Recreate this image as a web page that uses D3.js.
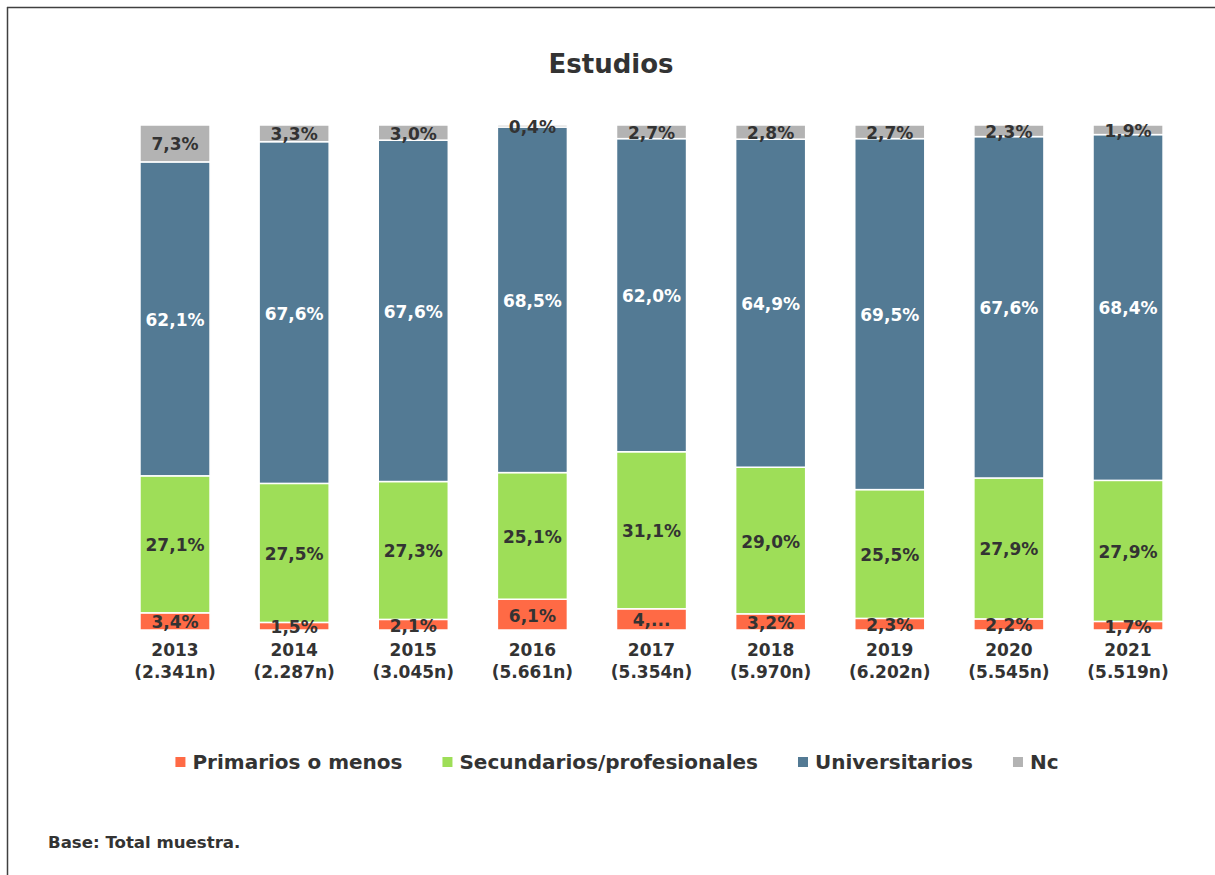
<!DOCTYPE html>
<html>
<head>
<meta charset="utf-8">
<script src="https://cdn.jsdelivr.net/npm/d3@7/dist/d3.min.js"></script>
<style>
  html, body { margin: 0; padding: 0; background: #fff; }
  svg { display: block; }
  text { font-family: "DejaVu Sans", Verdana, sans-serif; font-weight: bold; }
</style>
</head>
<body>
<svg id="chart" width="1215" height="875"></svg>
<script>
// ---- Data ----
const years = ["2013", "2014", "2015", "2016", "2017", "2018", "2019", "2020", "2021"];
const sampleSizes = ["(2.341n)", "(2.287n)", "(3.045n)", "(5.661n)", "(5.354n)", "(5.970n)", "(6.202n)", "(5.545n)", "(5.519n)"];
const seriesNames = ["Primarios o menos", "Secundarios/profesionales", "Universitarios", "Nc"];
const primarios = [3.4, 1.5, 2.1, 6.1, 4.2, 3.2, 2.3, 2.2, 1.7];
const secundarios = [27.1, 27.5, 27.3, 25.1, 31.1, 29.0, 25.5, 27.9, 27.9];
const universitarios = [62.1, 67.6, 67.6, 68.5, 62.0, 64.9, 69.5, 67.6, 68.4];
const nc = [7.3, 3.3, 3.0, 0.4, 2.7, 2.8, 2.7, 2.3, 1.9];
const truncatedLabels = { "2017|Primarios o menos": "4,..." };
const colors = ["#FF6A45", "#9EDE58", "#537A94", "#B3B3B3"];
const labelColors = ["#333333", "#333333", "#FFFFFF", "#333333"];

const seriesValues = [primarios, secundarios, universitarios, nc];
const rows = years.map((y, i) => {
  const r = { year: y };
  seriesNames.forEach((s, k) => r[s] = seriesValues[k][i]);
  return r;
});

const svg = d3.select("#chart");
const textColor = "#333333";

// frame
svg.append("line").attr("x1", 7).attr("y1", 7.5).attr("x2", 1215).attr("y2", 7.5)
  .attr("stroke", "#404040").attr("stroke-width", 1.5);
svg.append("line").attr("x1", 7.5).attr("y1", 7).attr("x2", 7.5).attr("y2", 875)
  .attr("stroke", "#404040").attr("stroke-width", 1.5);

// title
svg.append("text").attr("x", 611).attr("y", 73).attr("text-anchor", "middle")
  .attr("font-size", 26).attr("fill", textColor).text("Estudios");

// scales
const x = d3.scaleBand().domain(years).range([115.45, 1187.6]).paddingInner(0.412).paddingOuter(0.206);
const y = d3.scaleLinear().domain([0, 1]).range([630, 125]);

const stack = d3.stack().keys(seriesNames).offset(d3.stackOffsetExpand);
const stacked = stack(rows);

const fmt = v => d3.format(".1f")(v).replace(".", ",") + "%";

const groups = svg.append("g").selectAll("g").data(stacked).join("g")
  .attr("fill", (d, i) => colors[i]);

groups.selectAll("rect").data(d => d).join("rect")
  .attr("x", d => x(d.data.year))
  .attr("width", x.bandwidth())
  .attr("y", d => y(d[1]))
  .attr("height", d => y(d[0]) - y(d[1]))
  .attr("stroke", "#ffffff").attr("stroke-width", 1.5);

// data labels
const labelsG = svg.append("g");
stacked.forEach((layer, k) => {
  labelsG.selectAll(null).data(layer).join("text")
    .attr("x", d => x(d.data.year) + x.bandwidth() / 2)
    .attr("y", d => (y(d[0]) + y(d[1])) / 2 + 1)
    .attr("text-anchor", "middle")
    .attr("dominant-baseline", "central")
    .attr("font-size", 17)
    .attr("fill", labelColors[k])
    .text(d => truncatedLabels[d.data.year + "|" + layer.key] || fmt(d.data[layer.key]));
});

// x axis labels
const xAxis = svg.append("g");
xAxis.selectAll(null).data(years).join("text")
  .attr("x", d => x(d) + x.bandwidth() / 2).attr("y", 656)
  .attr("text-anchor", "middle").attr("font-size", 17).attr("fill", textColor)
  .text(d => d);
xAxis.selectAll(null).data(years).join("text")
  .attr("x", d => x(d) + x.bandwidth() / 2).attr("y", 678)
  .attr("text-anchor", "middle").attr("font-size", 17).attr("fill", textColor)
  .text((d, i) => sampleSizes[i]);

// legend
const legend = svg.append("g");
const items = legend.selectAll("g").data(seriesNames).join("g");
items.append("rect").attr("width", 10).attr("height", 10).attr("y", 757)
  .attr("fill", (d, i) => colors[i]);
items.append("text").attr("x", 17).attr("y", 769).attr("font-size", 20)
  .attr("fill", textColor).text(d => d);
const widths = [];
items.each(function () { widths.push(17 + d3.select(this).select("text").node().getComputedTextLength()); });
const gap = 40;
const total = d3.sum(widths) + gap * (widths.length - 1);
let cx = 617 - total / 2;
items.each(function (d, i) {
  d3.select(this).attr("transform", `translate(${cx},0)`);
  cx += widths[i] + gap;
});

// footnote
svg.append("text").attr("x", 48).attr("y", 848).attr("font-size", 16.6)
  .attr("font-family", "'Open Sans', sans-serif")
  .attr("fill", textColor).text("Base: Total muestra.");
</script>
</body>
</html>
